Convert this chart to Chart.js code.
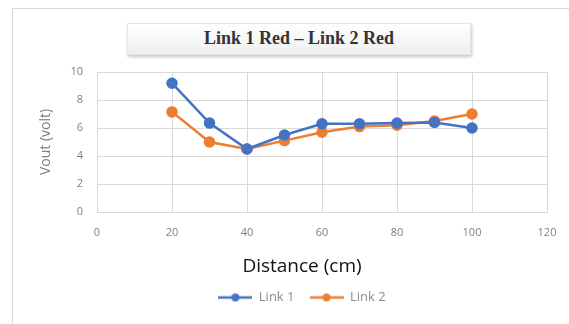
<!DOCTYPE html>
<html><head><meta charset="utf-8">
<script src="https://cdn.jsdelivr.net/npm/chart.js@4/dist/chart.umd.min.js"></script>
<style>
html,body{margin:0;padding:0;background:#fff;}
#wrap{position:relative;width:569px;height:324px;overflow:hidden;}
#frame{position:absolute;left:12px;top:8px;width:600px;height:400px;border:1px solid #d9d9d9;box-sizing:border-box;}
#tbox{position:absolute;left:127px;top:23px;width:344px;height:32px;background:linear-gradient(#ffffff,#efefef);box-shadow:1px 2px 3px rgba(0,0,0,0.22);border:1px solid #e6e6e6;box-sizing:border-box;
 font-family:"Liberation Serif","DejaVu Serif",serif;font-weight:bold;font-size:18px;color:#333;text-align:center;line-height:28px;}
canvas{position:absolute;left:0;top:0;}
</style></head>
<body><div id="wrap"><div id="frame"></div><div id="tbox">Link 1 Red – Link 2 Red</div><canvas id="c" width="569" height="324"></canvas></div>
<script>
const distances = [20, 30, 40, 50, 60, 70, 80, 90, 100];
const link1 = [9.2, 6.35, 4.5, 5.5, 6.3, 6.3, 6.35, 6.4, 6.0];
const link2 = [7.15, 5.0, 4.5, 5.1, 5.7, 6.1, 6.2, 6.5, 7.0];
const seriesNames = ["Link 1", "Link 2"];
const xTitle = "Distance (cm)";
const yTitle = "Vout (volt)";

const toPts = (ys) => distances.map((x, i) => ({x: x, y: ys[i]}));
const sans = "'Open Sans', 'DejaVu Sans', sans-serif";
const tickFont = {family: sans, size: 11};

function legendMarker(color) {
  const c = document.createElement('canvas');
  c.width = 34; c.height = 10;
  const g = c.getContext('2d');
  g.strokeStyle = color; g.lineWidth = 2.5;
  g.beginPath(); g.moveTo(0, 5); g.lineTo(34, 5); g.stroke();
  g.fillStyle = color;
  g.beginPath(); g.arc(17, 5, 4, 0, Math.PI * 2); g.fill();
  return c;
}

new Chart(document.getElementById('c'), {
  type: 'scatter',
  data: {
    datasets: [
      {label: seriesNames[0], data: toPts(link1), showLine: true, borderColor: '#4472C4', backgroundColor: '#4472C4', borderWidth: 2.5, pointRadius: 4.5, pointHoverRadius: 4.5},
      {label: seriesNames[1], data: toPts(link2), showLine: true, borderColor: '#ED7D31', backgroundColor: '#ED7D31', borderWidth: 2.5, pointRadius: 4.5, pointHoverRadius: 4.5}
    ]
  },
  options: {
    responsive: false,
    animation: false,
    devicePixelRatio: 1,
    layout: {padding: {top: 72, left: 35, right: 0, bottom: 10}},
    plugins: {
      legend: {
        position: 'bottom',
        weight: 1000,
        labels: {
          font: {family: sans, size: 13},
          color: '#8c8c8c',
          usePointStyle: true,
          pointStyleWidth: 34,
          boxHeight: 10,
          padding: 15,
          generateLabels: (chart) => chart.data.datasets.map((d, i) => ({
            text: d.label, pointStyle: legendMarker(d.borderColor), fillStyle: d.borderColor, strokeStyle: d.borderColor,
            lineWidth: 0, hidden: false, datasetIndex: i, fontColor: '#8c8c8c'
          }))
        }
      },
      title: {
        display: true, position: 'bottom', weight: 500, text: xTitle, color: '#111',
        font: {family: sans, size: 19, weight: 'normal', lineHeight: 1.0},
        padding: {top: 15, bottom: 0}
      },
      tooltip: {enabled: false}
    },
    scales: {
      x: {
        type: 'linear', min: 0, max: 120,
        ticks: {stepSize: 20, color: '#7f7f7f', font: tickFont, padding: 14},
        grid: {color: '#d9d9d9', drawTicks: false},
        border: {color: '#d9d9d9'},
        afterFit: (s) => { s.paddingRight = 22; s.height = 30; }
      },
      y: {
        min: 0, max: 10,
        ticks: {stepSize: 2, color: '#7f7f7f', font: tickFont, padding: 14},
        grid: {color: '#d9d9d9', drawTicks: false},
        border: {display: false},
        title: {display: true, text: yTitle, color: '#7f7f7f', font: {family: sans, size: 14}, padding: {top: 3, bottom: 0}},
        afterFit: (s) => { s.width = 62; }
      }
    }
  }
});
</script>
</body></html>
